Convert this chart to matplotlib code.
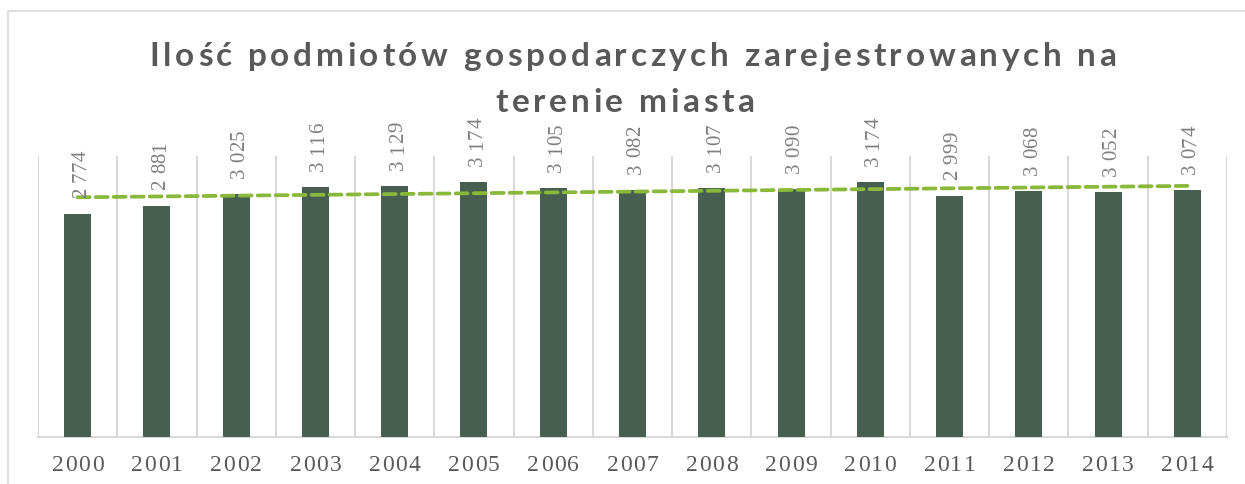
import matplotlib
matplotlib.use('Agg')
import matplotlib.pyplot as plt
import numpy as np
from matplotlib.patches import Rectangle
from matplotlib.font_manager import FontProperties, findfont, get_font

# data
years = ['2000', '2001', '2002', '2003', '2004', '2005', '2006', '2007',
         '2008', '2009', '2010', '2011', '2012', '2013', '2014']
counts = [2774, 2881, 3025, 3116, 3129, 3174, 3105, 3082,
          3107, 3090, 3174, 2999, 3068, 3052, 3074]
labels = ['2 774', '2 881', '3 025', '3 116', '3 129', '3 174', '3 105', '3 082',
          '3 107', '3 090', '3 174', '2 999', '3 068', '3 052', '3 074']
title_lines = ['Ilość podmiotów gospodarczych zarejestrowanych na', 'terenie miasta']

W, H = 1245, 484
DPI = 100


def advances(text, family, size, weight='normal'):
    # glyph advances in pixels, so letters can be spread out like in Excel
    fp = FontProperties(family=family, size=size, weight=weight)
    font = get_font(findfont(fp))
    font.set_size(size, DPI)
    return [font.load_char(ord(ch)).linearHoriAdvance / 65536 for ch in text]


def spaced(ax, text, xy, xycoords, start, across, gap, rotation,
           family, size, weight='normal', **kw):
    # draw text char by char with extra spacing (gap px) between them
    adv = advances(text, family, size, weight)
    pos = start
    for ch, a in zip(text, adv):
        if rotation == 0:
            off = (pos, across)
        else:
            off = (across, pos)
        ax.annotate(ch, xy, xycoords=xycoords, xytext=off,
                    textcoords='offset pixels', rotation=rotation,
                    rotation_mode='anchor', ha='left', va='baseline',
                    family=family, fontsize=size, fontweight=weight,
                    annotation_clip=False, **kw)
        pos += a + gap
    return pos


fig = plt.figure(figsize=(W / DPI, H / DPI), dpi=DPI)
ax = fig.add_axes([38 / W, (H - 437) / H, (1227 - 38) / W, (437 - 156) / H])

x = np.arange(len(years))
ax.bar(x, counts, width=0.34, color='#465f51', zorder=3)

# separators between categories
for i in range(len(years) + 1):
    ax.axvline(i - 0.5, color='#d9d9d9', lw=1.5, zorder=1)

# linear trend line
k, b = np.polyfit(x, counts, 1)
ax.plot(x, k * x + b, color='#8ab83a', lw=2.7, dashes=(3.2, 1.6),
        dash_capstyle='round', zorder=4)

# data labels, rotated
for xi, v, lab in zip(x, counts, labels):
    spaced(ax, lab, (xi, v), 'data', 16, 8, 0.3, 90,
           'Liberation Serif', 15, color='#7f7f7f', zorder=5)

# category labels
for xi, yr in zip(x, years):
    adv = advances(yr, 'Liberation Serif', 17)
    total = sum(adv) + 1.5 * (len(yr) - 1)
    spaced(ax, yr, (xi, 0), ax.get_xaxis_transform(), -total / 2, -34, 1.5, 0,
           'Liberation Serif', 17, color='#595959')

ax.set_xlim(-0.5, len(years) - 0.5)
ax.set_ylim(0, 3500)
ax.set_xticks([])
ax.set_yticks([])
for s in ['top', 'right', 'left']:
    ax.spines[s].set_visible(False)
ax.spines['bottom'].set_color('#d9d9d9')
ax.spines['bottom'].set_linewidth(1.5)

# title with letter spacing
for line, base, cx in zip(title_lines, [66, 112], [633, 625]):
    adv = advances(line, 'Lato', 24, 'bold')
    gap = 3.65
    total = sum(adv) + gap * (len(line) - 1)
    spaced(ax, line, (cx / W, 1 - base / H), 'figure fraction', -total / 2, 0,
           gap, 0, 'Lato', 24, 'bold', color='#595959')

# chart border
fig.patches.append(Rectangle((8 / W, -0.1), 1.2, 1 - 11 / H + 0.1,
                             transform=fig.transFigure, fill=False,
                             edgecolor='#d9d9d9', lw=1.2))

fig.savefig('out.png', dpi=DPI)
